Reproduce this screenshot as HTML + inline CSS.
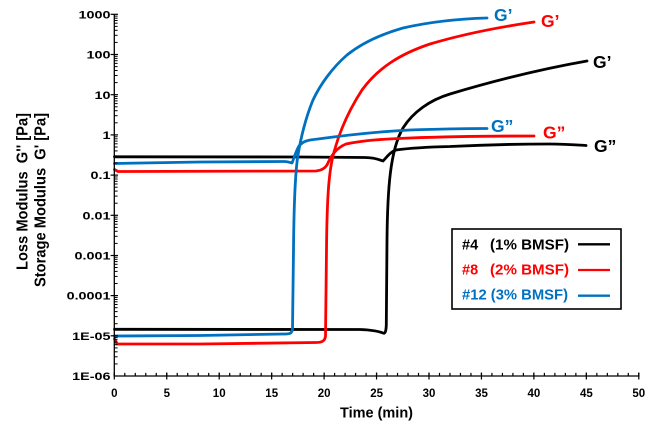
<!DOCTYPE html>
<html><head><meta charset="utf-8"><style>
html,body{margin:0;padding:0;background:#fff}
svg{display:block}
text{font-family:"Liberation Sans",Arial,sans-serif;font-weight:bold;fill:#000}
</style></head><body>
<svg width="650" height="435" viewBox="0 0 650 435" xmlns="http://www.w3.org/2000/svg">
<defs>
<g id="mt" stroke="#000" stroke-width="1">
<line x1="114.3" x2="117.6" y1="-12.1" y2="-12.1"/>
<line x1="114.3" x2="117.6" y1="-19.2" y2="-19.2"/>
<line x1="114.3" x2="117.6" y1="-24.2" y2="-24.2"/>
<line x1="114.3" x2="117.6" y1="-28.1" y2="-28.1"/>
<line x1="114.3" x2="117.6" y1="-31.3" y2="-31.3"/>
<line x1="114.3" x2="117.6" y1="-34.0" y2="-34.0"/>
<line x1="114.3" x2="117.6" y1="-36.3" y2="-36.3"/>
<line x1="114.3" x2="117.6" y1="-38.35" y2="-38.35"/>
</g>
</defs>
<rect width="650" height="435" fill="#fff"/>

<!-- curves -->
<g fill="none" stroke-width="2.8" stroke-linejoin="round" stroke-linecap="round">
<path stroke="#000" d="M114.5,156.8 L300,157 L365,157.5 C372,157.5 378,159 383,161 C387,157 390,152 396,150 C410,148 430,147 450,146.5 C480,145 520,144 550,144 C565,144 578,145 586,145.5"/>
<path stroke="#000" d="M114.5,329.3 L360,329.5 C372,330 378,331 383,333 C385,334 386,332 386.3,325 L387,240 C387.5,190 390,150 403,128 C413,112 430,100 450,94 C480,85 530,71 587,61"/>
<path stroke="#FF0000" d="M114.5,169.5 L118,171.5 L316,171 C322,170.5 325,168 327,165 C331,156 336,148 346,144 C365,140 385,139 410,138 C450,136.5 500,136 534,136"/>
<path stroke="#FF0000" d="M114.5,339 L117,344 L200,344 L316,342.5 C322,342.5 325,341 325.5,336 L326.5,250 C327,195 329,170 334,152 C340,130 349,110 362,90 C378,68 400,54 430,44 C460,35 500,27 534,22"/>
<path stroke="#0070C0" d="M114.5,163.5 L200,162 L284,161.5 C288,161.5 290,162.5 292,163 C294,158 296,151 299,146 C303,141 308,140 318,139 C340,136 370,132 410,130 C440,129 465,128.5 487,128.5"/>
<path stroke="#0070C0" d="M114.5,336 L200,335.5 L284,334 C289,334 292,334 292.5,329 L293.5,250 C294,195 295.5,170 298,155 C301,137 306,117 313,100 C320,85 332,68 347,55 C362,43 382,34 403,28 C425,23 450,19 487,18"/>
</g>

<!-- axes -->
<g stroke="#000" stroke-width="1.3" fill="none">
<line x1="114.3" y1="14" x2="114.3" y2="376.5"/>
<line x1="113.7" y1="376" x2="639.5" y2="376"/>
</g>
<g stroke="#000" stroke-width="1.2">
<line x1="110.6" x2="118" y1="14.3" y2="14.3"/>
<line x1="110.6" x2="118" y1="54.5" y2="54.5"/>
<line x1="110.6" x2="118" y1="94.7" y2="94.7"/>
<line x1="110.6" x2="118" y1="134.9" y2="134.9"/>
<line x1="110.6" x2="118" y1="175.1" y2="175.1"/>
<line x1="110.6" x2="118" y1="215.3" y2="215.3"/>
<line x1="110.6" x2="118" y1="255.5" y2="255.5"/>
<line x1="110.6" x2="118" y1="295.6" y2="295.6"/>
<line x1="110.6" x2="118" y1="335.8" y2="335.8"/>
</g>
<use href="#mt" y="376"/>
<use href="#mt" y="335.8"/>
<use href="#mt" y="295.6"/>
<use href="#mt" y="255.5"/>
<use href="#mt" y="215.3"/>
<use href="#mt" y="175.1"/>
<use href="#mt" y="134.9"/>
<use href="#mt" y="94.7"/>
<use href="#mt" y="54.5"/>
<line x1="113.7" y1="374.5" x2="640" y2="374.5" stroke="#000" stroke-width="3.2" stroke-dasharray="1.2 9.29"/>
<line x1="113.7" y1="376" x2="640" y2="376" stroke="#000" stroke-width="7" stroke-dasharray="1.2 51.25"/>

<!-- y tick labels -->
<g font-size="11.5" text-anchor="end">
<text transform="translate(110.5,18.4) scale(1.25,1)">1000</text>
<text transform="translate(110.5,58.6) scale(1.25,1)">100</text>
<text transform="translate(110.5,98.8) scale(1.25,1)">10</text>
<text transform="translate(110.5,139) scale(1.25,1)">1</text>
<text transform="translate(110.5,179.2) scale(1.25,1)">0.1</text>
<text transform="translate(110.5,219.4) scale(1.25,1)">0.01</text>
<text transform="translate(110.5,259.6) scale(1.25,1)">0.001</text>
<text transform="translate(110.5,299.7) scale(1.25,1)">0.0001</text>
<text transform="translate(110.5,339.9) scale(1.25,1)">1E-05</text>
<text transform="translate(110.5,380.1) scale(1.25,1)">1E-06</text>
</g>
<!-- x tick labels -->
<g font-size="11.5" text-anchor="middle">
<text x="114.3" y="397">0</text>
<text x="166.8" y="397">5</text>
<text x="219.2" y="397">10</text>
<text x="271.7" y="397">15</text>
<text x="324.1" y="397">20</text>
<text x="376.6" y="397">25</text>
<text x="429" y="397">30</text>
<text x="481.5" y="397">35</text>
<text x="533.9" y="397">40</text>
<text x="586.4" y="397">45</text>
<text x="638.8" y="397">50</text>
</g>
<text x="340" y="417.5" font-size="14.5" textLength="73" lengthAdjust="spacingAndGlyphs">Time (min)</text>

<!-- y axis title -->
<text transform="translate(27.5,270) rotate(-90)" font-size="16" textLength="157" lengthAdjust="spacingAndGlyphs" style="white-space:pre">Loss Modulus  G'' [Pa]</text>
<text transform="translate(45.5,287) rotate(-90)" font-size="16" textLength="174" lengthAdjust="spacingAndGlyphs" style="white-space:pre">Storage Modulus  G' [Pa]</text>

<!-- curve labels -->
<g font-size="17.5">
<text x="494" y="21" style="fill:#0070C0">G’</text>
<text x="541" y="27" style="fill:#FF0000">G’</text>
<text x="593" y="68">G’</text>
<text x="491" y="132" style="fill:#0070C0">G”</text>
<text x="543" y="138.5" style="fill:#FF0000">G”</text>
<text x="594" y="152">G”</text>
</g>

<!-- legend -->
<rect x="452" y="229" width="169" height="80" fill="#fff" stroke="#000" stroke-width="1.6"/>
<g font-size="14.5">
<text x="462" y="249.5">#4</text>
<text x="490" y="249.5" textLength="79" lengthAdjust="spacingAndGlyphs">(1% BMSF)</text>
<text x="462" y="274.5" style="fill:#FF0000">#8</text>
<text x="490" y="274.5" style="fill:#FF0000" textLength="79" lengthAdjust="spacingAndGlyphs">(2% BMSF)</text>
<text x="462" y="299.5" style="fill:#0070C0" textLength="106" lengthAdjust="spacingAndGlyphs">#12 (3% BMSF)</text>
</g>
<g stroke-width="2.3">
<line x1="578" x2="610" y1="244.3" y2="244.3" stroke="#000"/>
<line x1="578" x2="610" y1="270" y2="270" stroke="#FF0000"/>
<line x1="578" x2="610" y1="295.7" y2="295.7" stroke="#0070C0"/>
</g>
</svg>
</body></html>
